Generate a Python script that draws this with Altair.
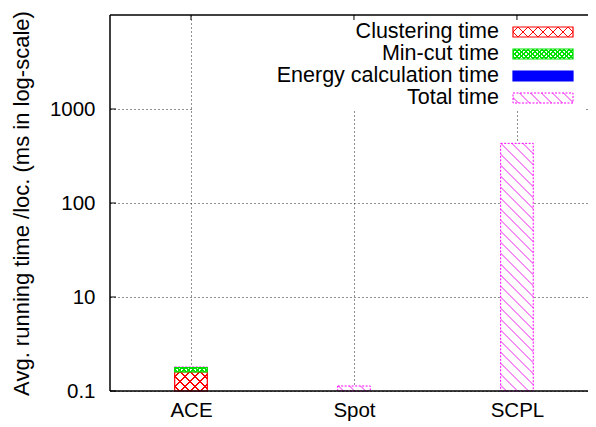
import math
import json
import altair as alt
import pandas as pd

# ---------------- data ----------------
categories = ["ACE", "Spot", "SCPL"]
clustering_ms = [1.60, 0.0, 0.0]
mincut_ms = [0.17, 0.0, 0.0]
energy_ms = [0.002, 0.0, 0.0]
total_ms = [1.80, 1.13, 431.0]
y_tick_values = [1, 10, 100, 1000]
y_tick_labels = ["0.1", "10", "100", "1000"]
legend_names = ["Clustering time", "Min-cut time", "Energy calculation time", "Total time"]

# ---------------- layout ----------------
W, H = 478, 376
X_DOM = [-0.497, 2.436]
Y_DOM = [1, 10000]
HALF = 0.1
FONT = "Liberation Sans"

xs = alt.Scale(domain=X_DOM, nice=False, zero=False)
ys = alt.Scale(type="log", domain=Y_DOM, nice=False)

y_label_expr = " : ".join(
    f"datum.value == {v} ? '{l}'" for v, l in zip(y_tick_values, y_tick_labels)
) + " : datum.label"
x_label_expr = f"{json.dumps(categories)}[datum.value]"

XAXIS = alt.Axis(
    values=list(range(len(categories))), labelExpr=x_label_expr, title=None,
    grid=True, gridDash=[1, 3], gridColor="#222222", gridWidth=1,
    ticks=False, domain=False, labelPadding=9, labelFont=FONT, labelFontSize=20.5,
    labelColor="black")
YAXIS = alt.Axis(
    values=y_tick_values, labelExpr=y_label_expr,
    title="Avg. running time /loc. (ms in log-scale)",
    titleFont=FONT, titleFontSize=22, titleFontWeight="normal", titleColor="black",
    titleX=-77, titleY=188,
    grid=True, gridDash=[1, 3], gridColor="#222222", gridWidth=1,
    ticks=False, domain=False, labelPadding=15, labelFont=FONT, labelFontSize=20.5,
    labelColor="black")


def bar_px_w():
    return 2 * HALF * W / (X_DOM[1] - X_DOM[0])


def bar_px_h(lo, hi):
    return (math.log10(hi) - math.log10(lo)) * H / (math.log10(Y_DOM[1]) - math.log10(Y_DOM[0]))


def stripes(w, h, period, lw, color, bg, kind):
    """Linear gradient emulating hatch lines on a w x h box (bbox units)."""
    w = max(w, 1.0)
    h = max(h, 1.0)
    L = w + h
    k = L / (w * w + h * h)
    if kind == "back":  # '\' lines
        x1, y1, x2, y2 = 0, 1, k * w, 1 - k * h
    else:  # '/' lines
        x1, y1, x2, y2 = 0, 0, k * w, k * h
    half = lw * math.sqrt(2) / 2 / L
    stops = [{"offset": 0, "color": bg}]
    s = period / 2
    while s < L:
        t = s / L
        a, b = max(0.0, t - half), min(1.0, t + half)
        stops += [{"offset": a, "color": bg}, {"offset": a, "color": color},
                  {"offset": b, "color": color}, {"offset": b, "color": bg}]
        s += period
    stops.append({"offset": 1, "color": bg})
    return {"gradient": "linear", "stops": stops, "x1": x1, "y1": y1, "x2": x2, "y2": y2}


CLEAR = "rgba(255,255,255,0)"


def style(name, w, h):
    if name == "cluster":
        return ([stripes(w, h, 10, 1.2, "#ff0000", "#ffffff", "back"),
                 stripes(w, h, 10, 1.2, "#ff0000", CLEAR, "fwd")],
                dict(stroke="#ff0000", strokeWidth=1.2))
    if name == "mincut":
        return ([stripes(w, h, 4.5, 1.4, "#00e000", "#ffffff", "back"),
                 stripes(w, h, 4.5, 1.4, "#00e000", CLEAR, "fwd")],
                dict(stroke="#00e000", strokeWidth=1.2))
    if name == "energy":
        return (["#0000ff"], dict(stroke="#0000ff", strokeWidth=1.2))
    return ([stripes(w, h, 11, 1.3, "#f590f5", "#ffffff", "back")],
            dict(stroke="#ff00ff", strokeWidth=1, strokeDash=[2, 1.5]))


def bar_layers(i, lo, hi, name, with_stroke=True):
    fills, strk = style(name, bar_px_w(), bar_px_h(lo, hi))
    df = pd.DataFrame({"idx": [i], "lo": [lo], "hi": [hi]})
    out = []
    mks = [dict(fill=f) for f in fills]
    if with_stroke:
        mks.append(dict(fill=CLEAR, **strk))
    for mk in mks:
        out.append(
            alt.Chart(df).mark_rect(**mk)
            .transform_calculate(x0=f"datum.idx - {HALF}", x1=f"datum.idx + {HALF}")
            .encode(x=alt.X("x0:Q", scale=xs, axis=XAXIS), x2="x1:Q",
                    y=alt.Y("lo:Q", scale=ys, axis=YAXIS), y2="hi:Q")
        )
    return out


layers = []

# total bars (behind)
for i, t in enumerate(total_ms):
    if t > Y_DOM[0]:
        layers += bar_layers(i, Y_DOM[0], t, "total")

# stacked components
for i in range(len(categories)):
    base = 0.0
    for vals, name in [(clustering_ms, "cluster"), (mincut_ms, "mincut"), (energy_ms, "energy")]:
        v = vals[i]
        if v <= 0:
            continue
        lo = max(Y_DOM[0], base)
        hi = base + v
        base = hi
        if hi > lo:
            layers += bar_layers(i, lo, hi, name, with_stroke=(name != "energy"))

one = pd.DataFrame({"a": [0]})

# legend: opaque white box
layers.append(alt.Chart(one).mark_rect(fill="white").encode(
    x=alt.value(82), x2=alt.value(476), y=alt.value(1), y2=alt.value(96)))

leg_styles = ["cluster", "mincut", "energy", "total"]
for r, (nm, st) in enumerate(zip(legend_names, leg_styles)):
    yc = 17 + 22 * r
    ldf = pd.DataFrame({"name": [nm]})
    layers.append(alt.Chart(ldf).mark_text(
        align="right", baseline="middle", font=FONT, fontSize=21.5, color="black"
    ).encode(text="name:N", x=alt.value(389), y=alt.value(yc)))
    fills, strk = style(st, 60, 10)
    for f in fills:
        layers.append(alt.Chart(ldf).mark_rect(fill=f).encode(
            x=alt.value(403), x2=alt.value(463), y=alt.value(yc - 5), y2=alt.value(yc + 5)))
    layers.append(alt.Chart(ldf).mark_rect(fill=CLEAR, **strk).encode(
        x=alt.value(403), x2=alt.value(463), y=alt.value(yc - 5), y2=alt.value(yc + 5)))

# frame
for enc in [dict(x=alt.value(0), x2=alt.value(0), y=alt.value(0), y2=alt.value(H)),
            dict(x=alt.value(0), x2=alt.value(W), y=alt.value(H), y2=alt.value(H)),
            dict(x=alt.value(0), x2=alt.value(W), y=alt.value(0), y2=alt.value(0))]:
    layers.append(alt.Chart(one).mark_rule(color="black", strokeWidth=1.5).encode(**enc))

# inward ticks
tick_df = pd.DataFrame({"v": y_tick_values})
layers.append(alt.Chart(tick_df).mark_rule(color="black", strokeWidth=1).encode(
    y=alt.Y("v:Q", scale=ys, axis=YAXIS), x=alt.value(0), x2=alt.value(6)))
cat_df = pd.DataFrame({"idx": list(range(len(categories)))})
layers.append(alt.Chart(cat_df).mark_rule(color="black", strokeWidth=1).encode(
    x=alt.X("idx:Q", scale=xs, axis=XAXIS), y=alt.value(0), y2=alt.value(5)))

chart = alt.layer(*layers).properties(
    width=W, height=H,
    padding={"left": 102, "top": 7, "right": 0, "bottom": 32},
    autosize=alt.AutoSizeParams(type="none"),
).configure_view(stroke=None)

chart.save("out.html", embed_options={"renderer": "svg", "actions": False})
